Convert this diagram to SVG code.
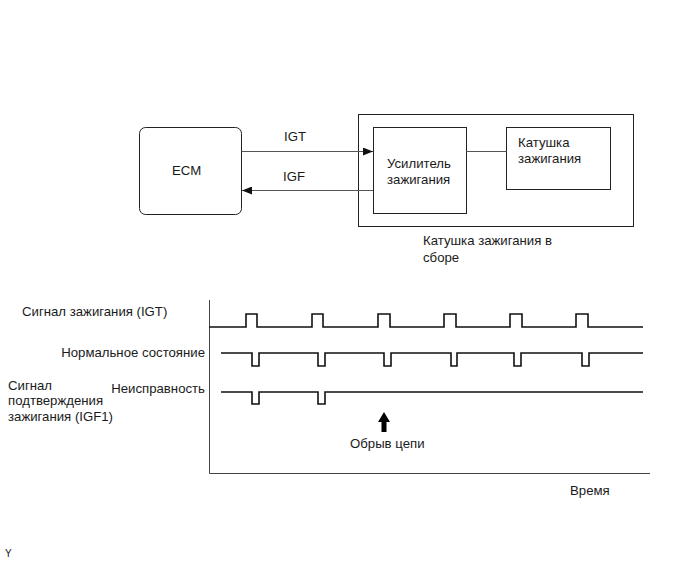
<svg xmlns="http://www.w3.org/2000/svg" width="690" height="564" viewBox="0 0 690 564">
<defs>
<style>
text{font-family:"Liberation Sans",Arial,sans-serif;font-size:13.2px;fill:#1a1a1a}
.box{fill:#fff;stroke:#222;stroke-width:1}
.conn{fill:none;stroke:#555;stroke-width:1}
.sig{fill:none;stroke:#111;stroke-width:1.6}
.axis{fill:none;stroke:#444;stroke-width:1}
</style>
<marker id="ah" markerWidth="10" markerHeight="8" refX="10" refY="4" orient="auto" markerUnits="userSpaceOnUse">
<path d="M0,0 L10,4 L0,8 Z" fill="#111"/>
</marker>
</defs>
<rect width="690" height="564" fill="#fff"/>

<g id="assembly">
<rect class="box" x="358.5" y="114.5" width="275" height="112"/>
<text x="423" y="245">Катушка зажигания в</text>
<text x="423" y="262">сборе</text>
</g>
<g id="ecm">
<rect class="box" x="139.5" y="127.5" width="102" height="87" rx="6"/>
<text x="172" y="175">ECM</text>
</g>
<g id="amplifier">
<rect class="box" x="373.5" y="127.5" width="93" height="86"/>
<text x="387" y="168">Усилитель</text>
<text x="387" y="184">зажигания</text>
</g>
<g id="coil">
<rect class="box" x="506.5" y="127.5" width="104" height="62"/>
<text x="518" y="147">Катушка</text>
<text x="518" y="163">зажигания</text>
</g>

<g id="connectors">
<line class="conn" x1="241.5" y1="151.5" x2="373" y2="151.5" stroke="#888" marker-end="url(#ah)"/>
<text x="284" y="141">IGT</text>
<line class="conn" x1="373" y1="190.5" x2="242" y2="190.5" stroke="#222" marker-end="url(#ah)"/>
<text x="283" y="181">IGF</text>
<line class="conn" x1="466.5" y1="151.5" x2="506.5" y2="151.5" stroke="#888"/>
</g>

<g id="chart">
<polyline class="axis" points="209.5,300 209.5,473.5 650,473.5"/>
<text x="22" y="316">Сигнал зажигания (IGT)</text>
<text x="205" y="357" text-anchor="end">Нормальное состояние</text>
<text x="205" y="393" text-anchor="end">Неисправность</text>
<text x="8" y="390">Сигнал</text>
<text x="8" y="405">подтверждения</text>
<text x="8" y="421">зажигания (IGF1)</text>

<path class="sig" d="M209,327 H246 V314 H257 V327 H312 V314 H323 V327 H378 V314 H390 V327 H444 V314 H456 V327 H510 V314 H522 V327 H576 V314 H588 V327 H643"/>
<path class="sig" d="M221,353 H252 V366 H259 V353 H318 V366 H325 V353 H384 V366 H391 V353 H451 V366 H457 V353 H514 V366 H521 V353 H582 V366 H589 V353 H643"/>
<path class="sig" d="M221,392 H252 V404 H259 V392 H318 V404 H325 V392 H643"/>

<path d="M384,412 L390,422 L386.5,422 L386.5,432 L381.5,432 L381.5,422 L378,422 Z" fill="#000"/>
<text x="350" y="448">Обрыв цепи</text>
<text x="570" y="495">Время</text>
</g>
<text x="5" y="557" style="font-size:10px">Y</text>
</svg>
